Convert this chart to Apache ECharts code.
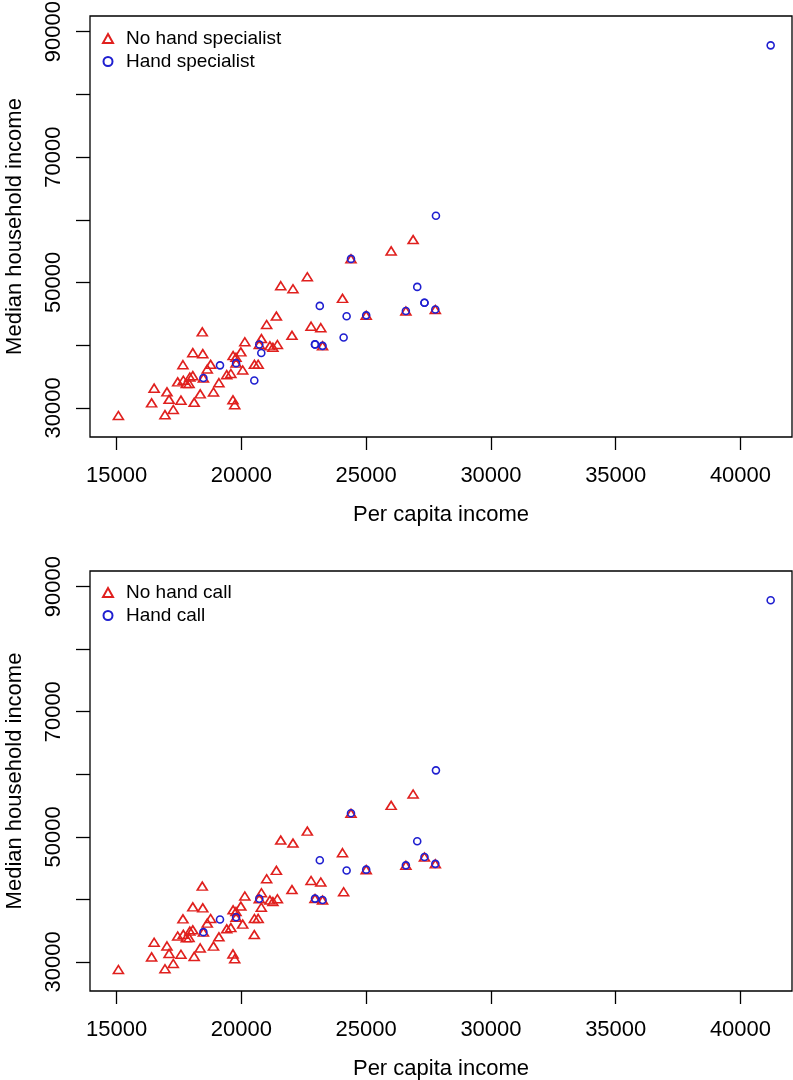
<!DOCTYPE html>
<html>
<head>
<meta charset="utf-8">
<script src="https://cdn.jsdelivr.net/npm/echarts@6/dist/echarts.min.js"></script>
<style>
  html, body { margin: 0; padding: 0; background: #fff; }
  #chart { width: 793px; height: 1080px; }
</style>
</head>
<body>
<div id="chart"></div>
<script>
// one entry per hospital: per capita income, median household income,
// hand specialist (1/0) and hand call (1/0)
const perCapita = [
  26880, 26000, 22640, 21575, 22065, 24050, 21400, 21010, 22790, 23180,
  18430, 22025, 20800, 20135, 21140, 21260, 21440, 18050, 18450, 19975,
  19665, 19780, 17655, 18765, 18630, 20520, 20670, 20050, 19410, 19575,
  18050, 17930, 17445, 17670, 17790, 17900, 19097, 16500, 17015, 18347,
  18880, 17100, 17575, 19660, 16399, 18105, 19730, 17268, 16935, 15068,
  24390, 24390, 25000, 25000, 26590, 26590, 27770, 27770, 23250, 23250,
  20715, 20715, 19785, 19785, 18475, 18475,
  41210, 27795, 27045, 23140, 24215, 19140,
  27335, 27335, 22948, 22948,
  24095, 20795, 20515
];
const medianIncome = [
  56840, 55030, 50910, 49480, 49000, 47460, 44640, 43290, 43020, 42780,
  42120, 41565, 41050, 40540, 39890, 39640, 40100, 38800, 38640, 38930,
  38330, 38050, 36880, 36940, 36200, 36940, 36950, 36040, 35290, 35480,
  35130, 34920, 34145, 34400, 33860, 33880, 34010, 33140, 32550, 32230,
  32525, 31360, 31225, 31280, 30798, 30880, 30505, 29740, 28910, 28780,
  53760, 53760, 44750, 44750, 45440, 45440, 45680, 45680, 39890, 39890,
  40100, 40100, 37130, 37130, 34760, 34760,
  87820, 60630, 49290, 46260, 44620, 36780,
  46770, 46770, 40120, 40120,
  41220, 38740, 34370
];
const specialist = [
  0, 0, 0, 0, 0, 0, 0, 0, 0, 0,
  0, 0, 0, 0, 0, 0, 0, 0, 0, 0,
  0, 0, 0, 0, 0, 0, 0, 0, 0, 0,
  0, 0, 0, 0, 0, 0, 0, 0, 0, 0,
  0, 0, 0, 0, 0, 0, 0, 0, 0, 0,
  0, 1, 0, 1, 0, 1, 0, 1, 0, 1,
  0, 1, 0, 1, 0, 1,
  1, 1, 1, 1, 1, 1,
  1, 1, 1, 1,
  1, 1, 1
];
const handCall = [
  0, 0, 0, 0, 0, 0, 0, 0, 0, 0,
  0, 0, 0, 0, 0, 0, 0, 0, 0, 0,
  0, 0, 0, 0, 0, 0, 0, 0, 0, 0,
  0, 0, 0, 0, 0, 0, 0, 0, 0, 0,
  0, 0, 0, 0, 0, 0, 0, 0, 0, 0,
  0, 1, 0, 1, 0, 1, 0, 1, 0, 1,
  0, 1, 0, 1, 0, 1,
  1, 1, 1, 1, 1, 1,
  1, 0, 1, 0,
  0, 0, 0
];

const xTicks = [15000, 20000, 25000, 30000, 35000, 40000];
const yTicks = [30000, 40000, 50000, 60000, 70000, 80000, 90000];
const yLabels = [30000, 50000, 70000, 90000];

const RED = '#e0201e';
const BLUE = '#1f1fd0';
const FONT = 'Liberation Sans, Arial, sans-serif';

const pick = (flags, v) => perCapita
  .map((x, i) => [x, medianIncome[i], flags[i]])
  .filter(p => p[2] === v)
  .map(p => [p[0], p[1]]);

const chart = echarts.init(document.getElementById('chart'));

const xAxisFor = (gi) => ({
  type: 'value',
  gridIndex: gi,
  min: 13930,
  max: 42065,
  name: 'Per capita income',
  nameLocation: 'middle',
  nameGap: 67,
  nameTextStyle: { fontSize: 22, color: '#000', fontFamily: FONT },
  splitLine: { show: false },
  axisLine: { show: false },
  axisTick: {
    show: true, inside: false, length: 13,
    customValues: xTicks,
    lineStyle: { color: '#000', width: 1.3 }
  },
  axisLabel: {
    customValues: xTicks,
    formatter: v => String(v),
    margin: 28,
    fontSize: 22, color: '#000', fontFamily: FONT
  }
});

const yAxisFor = (gi) => ({
  type: 'value',
  gridIndex: gi,
  min: 25350,
  max: 92500,
  name: 'Median household income',
  nameLocation: 'middle',
  nameGap: 64,
  nameRotate: 90,
  nameTextStyle: { fontSize: 22, color: '#000', fontFamily: FONT },
  splitLine: { show: false },
  axisLine: { show: false },
  axisTick: {
    show: true, inside: false, length: 14,
    customValues: yTicks,
    lineStyle: { color: '#000', width: 1.3 }
  },
  axisLabel: {
    customValues: yLabels,
    formatter: v => String(v),
    rotate: 90,
    margin: 25,
    fontSize: 22, color: '#000', fontFamily: FONT
  }
});

const triSeries = (name, gi, data) => ({
  name: name,
  type: 'scatter',
  xAxisIndex: gi,
  yAxisIndex: gi,
  symbol: 'triangle',
  symbolSize: [10, 8],
  data: data,
  itemStyle: { color: 'rgba(0,0,0,0)', borderColor: RED, borderWidth: 1.6, opacity: 1 },
  emphasis: { disabled: true },
  z: 2
});

const circSeries = (name, gi, data) => ({
  name: name,
  type: 'scatter',
  xAxisIndex: gi,
  yAxisIndex: gi,
  symbol: 'circle',
  symbolSize: 7,
  data: data,
  itemStyle: { color: 'rgba(0,0,0,0)', borderColor: BLUE, borderWidth: 1.6, opacity: 1 },
  emphasis: { disabled: true },
  z: 3
});

const legendFor = (top, names) => ({
  orient: 'vertical',
  left: 102,
  top: top,
  itemWidth: 10,
  itemHeight: 9,
  itemGap: 0,
  padding: 0,
  selectedMode: false,
  data: names,
  textStyle: { fontSize: 19, lineHeight: 23, padding: [0, 0, 0, 8], color: '#000', fontFamily: FONT }
});

const gridFor = (top, height) => ({
  left: 90, top: top, width: 702, height: height,
  outerBoundsMode: 'none',
  containLabel: false,
  show: true, borderColor: '#000', borderWidth: 1.3, backgroundColor: 'transparent'
});

const option = {
  animation: false,
  backgroundColor: '#fff',
  grid: [gridFor(16, 421), gridFor(571, 420)],
  legend: [
    legendFor(27, ['No hand specialist', 'Hand specialist']),
    legendFor(581, ['No hand call', 'Hand call'])
  ],
  xAxis: [xAxisFor(0), xAxisFor(1)],
  yAxis: [yAxisFor(0), yAxisFor(1)],
  series: [
    triSeries('No hand specialist', 0, pick(specialist, 0)),
    circSeries('Hand specialist', 0, pick(specialist, 1)),
    triSeries('No hand call', 1, pick(handCall, 0)),
    circSeries('Hand call', 1, pick(handCall, 1))
  ]
};

chart.setOption(option);
</script>
</body>
</html>
